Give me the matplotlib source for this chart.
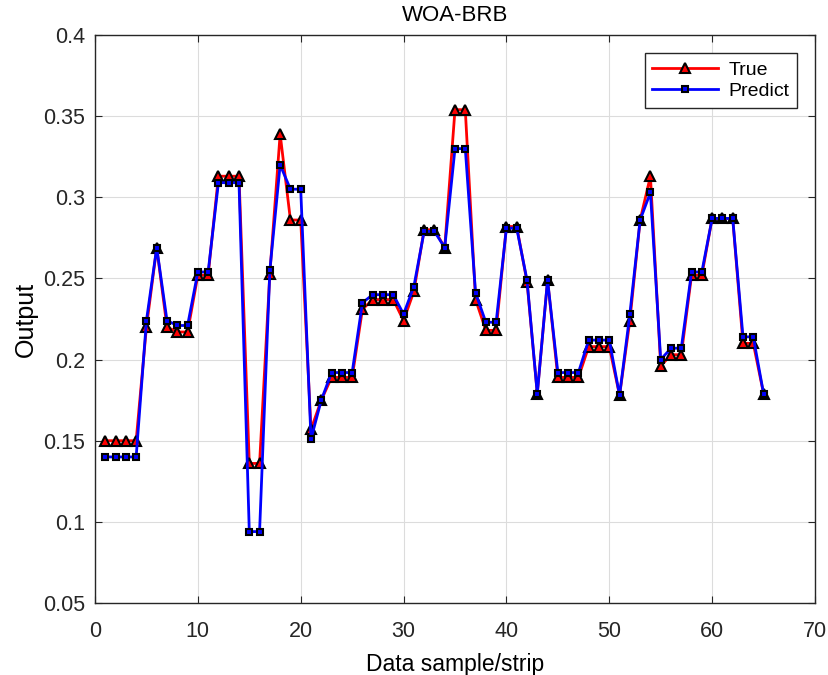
import matplotlib
matplotlib.use("Agg")
import matplotlib.pyplot as plt

plt.rcParams['font.family'] = ['Liberation Sans', 'DejaVu Sans']

samples = list(range(1, 66))
true_vals = [0.150, 0.150, 0.150, 0.150, 0.220, 0.269, 0.220, 0.217, 0.217, 0.252,
             0.252, 0.313, 0.313, 0.313, 0.136, 0.136, 0.253, 0.339, 0.286, 0.286,
             0.157, 0.175, 0.189, 0.189, 0.189, 0.231, 0.237, 0.237, 0.237, 0.224,
             0.242, 0.280, 0.280, 0.269, 0.354, 0.354, 0.237, 0.218, 0.218, 0.282,
             0.282, 0.248, 0.179, 0.249, 0.189, 0.189, 0.189, 0.208, 0.208, 0.208,
             0.178, 0.224, 0.286, 0.313, 0.196, 0.203, 0.203, 0.252, 0.252, 0.287,
             0.287, 0.287, 0.210, 0.210, 0.179]
pred_vals = [0.140, 0.140, 0.140, 0.140, 0.224, 0.269, 0.224, 0.221, 0.221, 0.254,
             0.254, 0.309, 0.309, 0.309, 0.094, 0.094, 0.255, 0.320, 0.305, 0.305,
             0.151, 0.175, 0.192, 0.192, 0.192, 0.235, 0.240, 0.240, 0.240, 0.228,
             0.245, 0.279, 0.279, 0.269, 0.330, 0.330, 0.241, 0.223, 0.223, 0.281,
             0.281, 0.249, 0.179, 0.249, 0.192, 0.192, 0.192, 0.212, 0.212, 0.212,
             0.178, 0.228, 0.286, 0.303, 0.200, 0.207, 0.207, 0.254, 0.254, 0.287,
             0.287, 0.287, 0.214, 0.214, 0.179]

fig = plt.figure(figsize=(8.29, 6.75), dpi=100)
ax = fig.add_axes([0.1146, 0.1067, 0.8685, 0.8414])

ax.plot(samples, true_vals, color='red', lw=2, marker='^', ms=7,
        mfc='red', mec='black', mew=1.5, label='True')
ax.plot(samples, pred_vals, color='blue', lw=2, marker='s', ms=5,
        mfc='blue', mec='black', mew=1.5, label='Predict')

ax.set_xlim(0, 70)
ax.set_ylim(0.05, 0.4)
ax.set_xticks(range(0, 71, 10))
ax.set_yticks([0.05, 0.1, 0.15, 0.2, 0.25, 0.3, 0.35, 0.4])
ax.set_yticklabels(['0.05', '0.1', '0.15', '0.2', '0.25', '0.3', '0.35', '0.4'])
ax.grid(True, color='#dcdcdc', lw=0.8)
ax.set_axisbelow(True)
ax.tick_params(direction='in', labelsize=15.5, top=True, right=True, length=5,
               colors='#262626')
ax.tick_params(axis='x', pad=13)
ax.tick_params(axis='y', pad=7)
for s in ax.spines.values():
    s.set_color('#262626')
    s.set_linewidth(1.0)

ax.set_title('WOA-BRB', fontsize=16, pad=10)
ax.set_xlabel('Data sample/strip', fontsize=16.5, labelpad=8)
ax.set_ylabel('Output', fontsize=18, labelpad=4)

leg = ax.legend(loc='upper right', bbox_to_anchor=(0.975, 0.968), borderaxespad=0,
                fontsize=14, fancybox=False, edgecolor='#262626', framealpha=1,
                handlelength=3.4, borderpad=0.4, labelspacing=0.2, handletextpad=0.5)
leg.get_frame().set_linewidth(1.0)

fig.savefig('out.png', dpi=100)
